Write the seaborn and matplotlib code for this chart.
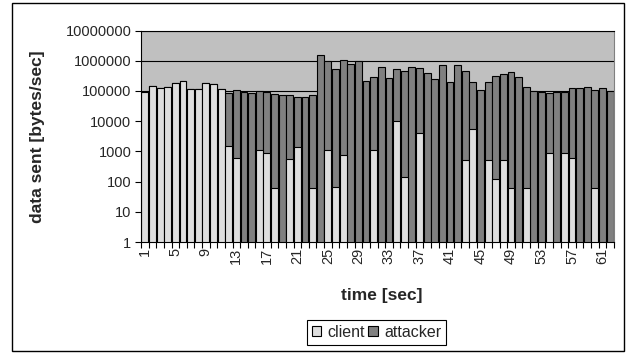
import seaborn as sns
import matplotlib.pyplot as plt
import numpy as np
import pandas as pd
from matplotlib.patches import Patch, Rectangle

# seconds 1..62
time = list(range(1, 63))

# bytes/sec sent by the client (bottom part of each bar), 0 = nothing visible
client = [95000, 144000, 127000, 140000, 179000, 207000, 118000, 118000, 179000, 165000,
          115000, 1500, 620, 0, 0, 1070, 900, 59, 0, 580,
          1350, 0, 59, 0, 1100, 65, 750, 0, 0, 0,
          1100, 0, 0, 10000, 138, 0, 3900, 0, 0, 0,
          0, 0, 520, 5500, 0, 520, 123, 520, 59, 0,
          59, 0, 0, 900, 0, 900, 620, 0, 0, 59,
          0, 0]

# bytes/sec sent by the attacker (stacked on top)
attacker = [0, 0, 0, 0, 0, 0, 0, 0, 0, 0,
            0, 82500, 106400, 95000, 88000, 98900, 94100, 77900, 74000, 73400,
            62700, 64000, 71900, 1490000, 959000, 520000, 1049000, 750000, 950000, 220000,
            284000, 620000, 270000, 525000, 439900, 620000, 571100, 400000, 240000, 700000,
            200000, 700000, 449500, 194500, 108000, 199500, 309900, 349500, 414900, 293000,
            134900, 100000, 95000, 85100, 95000, 94100, 121400, 122000, 135000, 109900,
            128000, 98000]

light = '#dedede'
dark = '#808080'

df = pd.DataFrame({'time': time, 'client': client, 'attacker': attacker})
df['total'] = df['client'] + df['attacker']
df['client_bar'] = df['client'].replace(0, np.nan)

sns.set_style('ticks')
plt.rcParams['font.family'] = ['Liberation Sans', 'DejaVu Sans']

fig = plt.figure(figsize=(6.29, 3.53), dpi=100)
ax = fig.add_axes([141/629, 1 - 242/353, 473/629, 211.5/353])
ax.set_facecolor('#c0c0c0')

sns.barplot(data=df, x='time', y='total', order=time, color=dark, saturation=1,
            edgecolor='black', linewidth=0.8, width=0.9, ax=ax)
sns.barplot(data=df, x='time', y='client_bar', order=time, color=light, saturation=1,
            edgecolor='black', linewidth=0.8, width=0.9, ax=ax)

ax.set_yscale('log')
ax.set_ylim(1, 1e7)
ax.set_xlim(-0.5, 61.5)
yt = [10**k for k in range(8)]
ax.set_yticks(yt)
ax.set_yticklabels([str(v) for v in yt], fontsize=10.5)
ax.yaxis.set_minor_locator(plt.NullLocator())
ax.tick_params(axis='y', length=4, width=0.8, pad=3, color='black')
ax.set_axisbelow(True)
ax.yaxis.grid(True, color='black', linewidth=0.8)

ax.set_xticks(range(0, 62, 4))
ax.set_xticklabels([str(t) for t in time[::4]], rotation=90, fontsize=10.5)
ax.set_xticks(np.arange(-0.5, 62, 1), minor=True)
ax.tick_params(axis='x', which='major', length=0, pad=4)
ax.tick_params(axis='x', which='minor', length=4, width=0.8, color='black')

ax.set_xlabel('time [sec]', fontsize=12.5, fontweight='bold')
ax.set_ylabel('data sent [bytes/sec]', fontsize=12.5, fontweight='bold')
ax.xaxis.set_label_coords(0.51, -0.218)
ax.yaxis.set_label_coords(-0.203, 0.5)

for s in ['left', 'bottom', 'top']:
    ax.spines[s].set_color('black')
    ax.spines[s].set_linewidth(0.8)
ax.spines['right'].set_color('#808080')
ax.spines['right'].set_linewidth(0.8)

handles = [Patch(facecolor=light, edgecolor='black', linewidth=0.8, label='client'),
           Patch(facecolor=dark, edgecolor='black', linewidth=0.8, label='attacker')]
leg = fig.legend(handles=handles, loc='center', bbox_to_anchor=(376.7/629, 1 - 332.5/353),
                 ncol=2, fontsize=11.5, frameon=True, fancybox=False, framealpha=1,
                 edgecolor='black', handlelength=0.6, handleheight=0.6,
                 handletextpad=0.4, columnspacing=0.2, borderpad=0.3)
leg.get_frame().set_linewidth(0.8)

fig.patches.append(Rectangle((12/629, 2/353), 612/629, 348/353, transform=fig.transFigure,
                             fill=False, edgecolor='black', linewidth=1))

fig.savefig('out.png', dpi=100)
